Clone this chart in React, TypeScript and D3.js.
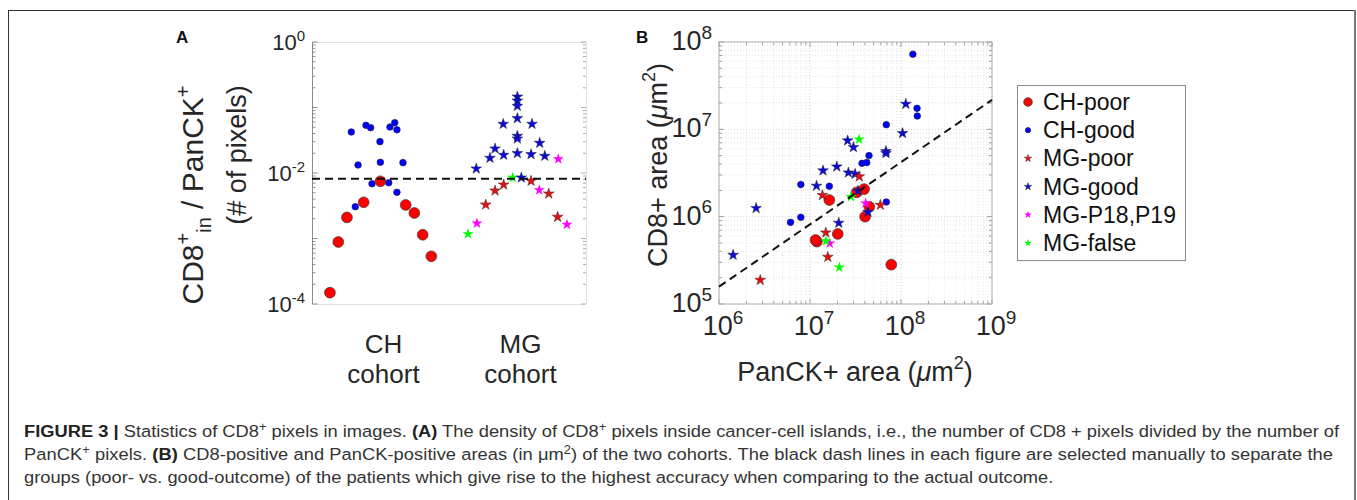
import React, { useLayoutEffect, useRef, useState } from "react";
import * as d3 from "d3";

// ---------- Panel A data: [x position (cohort index with offset), density] ----------
const CH_POOR_A: [number, number][] = [
  [0.631, 1.49e-4], [0.692, 8.85e-4], [0.755, 2.1e-3], [0.877, 3.57e-3], [0.999, 7.47e-3],
  [1.184, 3.25e-3], [1.247, 2.45e-3], [1.308, 1.14e-3], [1.371, 5.35e-4],
];
const CH_GOOD_A: [number, number][] = [
  [0.787, 0.0423], [0.836, 0.01325], [0.816, 3.06e-3], [0.894, 0.0535], [0.928, 0.0492],
  [0.938, 6.87e-3], [0.996, 0.0301], [0.999, 0.01456], [1.06, 7.11e-3], [1.069, 0.0504],
  [1.104, 0.0586], [1.12, 0.0458], [1.12, 5.07e-3], [1.164, 0.0144],
];
const MG_GOOD_A: [number, number][] = [
  [1.699, 0.01164], [1.799, 0.01694], [1.836, 0.02353], [1.896, 0.056], [1.899, 0.01883],
  [1.999, 0.146], [1.999, 0.127], [1.999, 0.1054], [1.999, 0.0684], [1.999, 0.0367],
  [1.999, 0.0334], [1.999, 0.02], [2.106, 0.056], [2.099, 0.0193], [2.162, 0.0287], [2.199, 0.0182],
];
const MG_POOR_A: [number, number][] = [
  [1.768, 3.28e-3], [1.836, 5.37e-3], [1.899, 6.63e-3], [2.099, 7.55e-3], [2.228, 4.83e-3], [2.293, 2.13e-3],
];
const MG_P1819_A: [number, number][] = [
  [1.704, 1.71e-3], [2.159, 5.5e-3], [2.298, 0.01636], [2.361, 1.63e-3],
];
const MG_FALSE_A: [number, number][] = [[1.639, 1.17e-3], [1.965, 8.49e-3]];
const MG_GOOD_A_TOP: [number, number][] = [[2.028, 8.49e-3]];
const THRESHOLD_A = 0.0082;
const COHORTS = ["CH", "MG"];
const COHORT_POS = [1, 2];

// ---------- Panel B data: [PanCK+ area, CD8+ area] in µm² ----------
const CH_POOR_B: [number, number][] = [
  [1.19e7, 5.18e5], [1.15e7, 5.41e5], [1.63e7, 1.55e6], [2.02e7, 6.34e5], [3.26e7, 1.9e6],
  [3.93e7, 2.07e6], [4.03e7, 1.0e6], [4.49e7, 1.3e6], [7.82e7, 2.82e5],
];
const CH_GOOD_B: [number, number][] = [
  [6.11e6, 8.61e5], [7.93e6, 9.84e5], [7.93e6, 2.33e6], [1.63e7, 2.23e6], [3.73e7, 4.08e6],
  [4.2e7, 4.16e6], [4.45e7, 5.0e6], [6.89e7, 1.13e7], [6.89e7, 1.47e6], [1.35e8, 7.24e7],
  [1.5e8, 1.74e7], [1.51e8, 1.42e7],
];
const MG_GOOD_B: [number, number][] = [
  [1.43e6, 3.64e5], [2.56e6, 1.25e6], [1.18e7, 2.25e6], [1.39e7, 3.37e6], [1.97e7, 3.74e6],
  [2.07e7, 8.47e5], [2.59e7, 7.43e6], [3.0e7, 6.24e6], [2.64e7, 3.19e6], [3.13e7, 3.08e6],
  [3.37e7, 1.97e6], [4.34e7, 1.13e6], [6.84e7, 5.61e6], [6.84e7, 5.32e6], [1.04e8, 9.02e6],
  [1.13e8, 1.95e7],
];
const MG_POOR_B: [number, number][] = [
  [2.84e6, 1.88e5], [1.37e7, 1.76e6], [1.49e7, 6.56e5], [1.57e7, 3.45e5], [3.48e7, 2.88e6], [5.93e7, 1.36e6],
];
const MG_P1819_B: [number, number][] = [[4.09e7, 1.42e6], [1.65e7, 4.95e5]];
const MG_FALSE_B: [number, number][] = [[3.46e7, 7.69e6], [2.82e7, 1.69e6], [1.5e7, 5.27e5], [2.1e7, 2.63e5]];
const THRESHOLD_B: [number, number][] = [[1e6, 1.58e5], [1e9, 2.17e7]];

const LEGEND_LABELS = ["CH-poor", "CH-good", "MG-poor", "MG-good", "MG-P18,P19", "MG-false"];

const FONT = "'Liberation Sans', Arial, Helvetica, sans-serif";

const STYLES: Record<string, { kind: "circle" | "star"; fill: string; stroke: string; r: number }> = {
  "CH-poor": { kind: "circle", fill: "#ff0000", stroke: "#3a3a3a", r: 5.4 },
  "CH-good": { kind: "circle", fill: "#0000ff", stroke: "#20205a", r: 3.3 },
  "MG-poor": { kind: "star", fill: "#e01212", stroke: "#4a2020", r: 36 },
  "MG-good": { kind: "star", fill: "#0a0ad8", stroke: "#202040", r: 36 },
  "MG-P18,P19": { kind: "star", fill: "#ff00ff", stroke: "none", r: 38 },
  "MG-false": { kind: "star", fill: "#00ff00", stroke: "none", r: 38 },
};

const starPath = (size: number) => d3.symbol(d3.symbolStar, size)() as string;

function Marker({ cls, x, y, scale = 1 }: { cls: string; x: number; y: number; scale?: number }) {
  const s = STYLES[cls];
  if (s.kind === "circle") {
    return <circle cx={x} cy={y} r={s.r * scale} fill={s.fill} stroke={s.stroke} strokeWidth={0.7} />;
  }
  return (
    <path
      d={starPath(s.r * scale * scale)}
      transform={`translate(${x},${y})`}
      fill={s.fill}
      stroke={s.stroke}
      strokeWidth={0.5}
    />
  );
}

function Pow({ base = "10", exp, size, supSize, x, y, anchor = "middle" }: any) {
  return (
    <text x={x} y={y} fontFamily={FONT} fontSize={size} textAnchor={anchor} fill="#262626">
      <tspan>{base}</tspan>
      <tspan fontSize={supSize} dy={-size * 0.42}>{exp}</tspan>
    </text>
  );
}

function logMinor(lo: number, hi: number) {
  const out: { v: number; major: boolean }[] = [];
  for (let d = lo; d <= hi; d++) {
    out.push({ v: Math.pow(10, d), major: true });
    if (d < hi) for (let k = 2; k <= 9; k++) out.push({ v: k * Math.pow(10, d), major: false });
  }
  return out;
}

export default function App() {
  // ---------- Panel A scales ----------
  const ax = d3.scaleLinear().domain([0.5, 2.5]).range([312, 586]);
  const ay = d3.scaleLog().domain([1e-4, 1]).range([304, 42]);
  // ---------- Panel B scales ----------
  const bx = d3.scaleLog().domain([1e6, 1e9]).range([719, 992]);
  const by = d3.scaleLog().domain([1e5, 1e8]).range([304, 42]);

  const aTicks = logMinor(-4, 0);
  const bxTicks = logMinor(6, 9);
  const byTicks = logMinor(5, 8);

  const bLine = d3
    .line<[number, number]>()
    .x((d) => bx(d[0]))
    .y((d) => by(d[1]));

  const capRef = useRef<SVGTextElement>(null);
  const [capScale, setCapScale] = useState(1);
  useLayoutEffect(() => {
    if (capRef.current) {
      const w = capRef.current.getComputedTextLength();
      if (w > 0) setCapScale(1316 / w);
    }
  }, []);

  const capX = 24;

  const groupsA: [string, [number, number][]][] = [
    ["CH-good", CH_GOOD_A],
    ["CH-poor", CH_POOR_A],
    ["MG-false", MG_FALSE_A],
    ["MG-good", MG_GOOD_A],
    ["MG-good", MG_GOOD_A_TOP],
    ["MG-poor", MG_POOR_A],
    ["MG-P18,P19", MG_P1819_A],
  ];
  const groupsB: [string, [number, number][]][] = [
    ["CH-good", CH_GOOD_B],
    ["CH-poor", CH_POOR_B],
    ["MG-good", MG_GOOD_B],
    ["MG-poor", MG_POOR_B],
    ["MG-P18,P19", MG_P1819_B],
    ["MG-false", MG_FALSE_B],
  ];

  return (
    <svg
      width={1357}
      height={500}
      style={{ position: "absolute", left: 0, top: 0, background: "#fff" }}
    >
      {/* frame */}
      <rect x={8.5} y={10.5} width={1346} height={600} fill="none" stroke="#333" strokeWidth={1} />
      <line x1={1355} x2={1355} y1={10} y2={500} stroke="#777" strokeWidth={2} />

      {/* ================= Panel A ================= */}
      <text x={176} y={43} fontFamily={FONT} fontWeight="bold" fontSize={17} fill="#111">A</text>
      {/* box */}
      <line x1={312} x2={586} y1={42.5} y2={42.5} stroke="#e2e2e2" />
      <line x1={312} x2={586} y1={304.5} y2={304.5} stroke="#e2e2e2" />
      <line x1={586.5} x2={586.5} y1={42} y2={304} stroke="#e2e2e2" />
      <line x1={312.5} x2={312.5} y1={42} y2={304} stroke="#8a8a8a" />
      {aTicks.map((t, i) => (
        <g key={i}>
          <line x1={312.5} x2={312.5 + (t.major ? 5 : 3)} y1={ay(t.v)} y2={ay(t.v)} stroke="#777" strokeWidth={0.8} />
          <line x1={586} x2={586 - (t.major ? 5 : 3)} y1={ay(t.v)} y2={ay(t.v)} stroke="#999" strokeWidth={0.8} />
        </g>
      ))}
      {[0, -2, -4].map((e) => (
        <Pow key={e} exp={String(e)} x={305} y={ay(Math.pow(10, e)) + 8} size={22} supSize={15} anchor="end" />
      ))}
      {/* y label */}
      <text transform="translate(203,195) rotate(-90)" fontFamily={FONT} fontSize={30} textAnchor="middle" fill="#262626">
        <tspan>CD8</tspan>
        <tspan fontSize={20} dy={-13}>+</tspan>
        <tspan fontSize={20} dy={21}>in</tspan>
        <tspan dy={-8}> / PanCK</tspan>
        <tspan fontSize={20} dy={-13}>+</tspan>
      </text>
      <text transform="translate(246,155) rotate(-90)" fontFamily={FONT} fontSize={27} textAnchor="middle" fill="#262626">
        (# of pixels)
      </text>
      {/* category labels */}
      {COHORTS.map((c, i) => (
        <g key={c}>
          <text x={ax(COHORT_POS[i]) + 3} y={353} fontFamily={FONT} fontSize={26} textAnchor="middle" fill="#262626">{c}</text>
          <text x={ax(COHORT_POS[i]) + 3} y={383} fontFamily={FONT} fontSize={26} textAnchor="middle" fill="#262626">cohort</text>
        </g>
      ))}
      {/* points */}
      {groupsA.map(([cls, pts], gi) =>
        pts.map((p, i) => <Marker key={`${gi}-${i}`} cls={cls} x={ax(p[0])} y={ay(p[1])} />)
      )}
      <line x1={312} x2={586} y1={ay(THRESHOLD_A)} y2={ay(THRESHOLD_A)} stroke="#111" strokeWidth={2} strokeDasharray="8,5" />

      {/* ================= Panel B ================= */}
      <text x={636} y={43} fontFamily={FONT} fontWeight="bold" fontSize={17} fill="#111">B</text>
      {/* grid */}
      {bxTicks.map((t, i) => (
        <line key={`gx${i}`} x1={bx(t.v)} x2={bx(t.v)} y1={42} y2={304} stroke={t.major ? "#c8c8c8" : "#dedede"} strokeWidth={0.8} strokeDasharray="1,2" />
      ))}
      {byTicks.map((t, i) => (
        <line key={`gy${i}`} x1={719} x2={992} y1={by(t.v)} y2={by(t.v)} stroke={t.major ? "#c8c8c8" : "#dedede"} strokeWidth={0.8} strokeDasharray="1,2" />
      ))}
      {/* ticks */}
      {bxTicks.map((t, i) => (
        <g key={`tx${i}`}>
          <line x1={bx(t.v)} x2={bx(t.v)} y1={304} y2={304 - (t.major ? 5 : 3)} stroke="#888" strokeWidth={0.8} />
          <line x1={bx(t.v)} x2={bx(t.v)} y1={42} y2={42 + (t.major ? 5 : 3)} stroke="#888" strokeWidth={0.8} />
        </g>
      ))}
      {byTicks.map((t, i) => (
        <g key={`ty${i}`}>
          <line x1={719} x2={719 + (t.major ? 5 : 3)} y1={by(t.v)} y2={by(t.v)} stroke="#888" strokeWidth={0.8} />
          <line x1={992} x2={992 - (t.major ? 5 : 3)} y1={by(t.v)} y2={by(t.v)} stroke="#888" strokeWidth={0.8} />
        </g>
      ))}
      <rect x={719} y={42} width={273} height={262} fill="none" stroke="#b0b0b0" strokeWidth={1} />
      {bxTicks.filter((t) => t.major).map((t) => (
        <Pow key={`lx${t.v}`} exp={String(Math.round(Math.log10(t.v)))} x={bx(t.v) + 4} y={335} size={27} supSize={19} />
      ))}
      {byTicks.filter((t) => t.major).map((t) => (
        <Pow key={`ly${t.v}`} exp={String(Math.round(Math.log10(t.v)))} x={712} y={by(t.v) + 8} size={27} supSize={19} anchor="end" />
      ))}
      {/* axis labels */}
      <text x={855} y={381} fontFamily={FONT} fontSize={27} textAnchor="middle" fill="#262626">
        <tspan>PanCK+ area (</tspan>
        <tspan fontStyle="italic">μ</tspan>
        <tspan>m</tspan>
        <tspan fontSize={18} dy={-12}>2</tspan>
        <tspan dy={12}>)</tspan>
      </text>
      <text transform="translate(667,165) rotate(-90)" fontFamily={FONT} fontSize={27} textAnchor="middle" fill="#262626">
        <tspan>CD8+ area (</tspan>
        <tspan fontStyle="italic">μ</tspan>
        <tspan>m</tspan>
        <tspan fontSize={18} dy={-12}>2</tspan>
        <tspan dy={12}>)</tspan>
      </text>
      {/* points */}
      <g>
        {groupsB.map(([cls, pts], gi) =>
          pts.map((p, i) => <Marker key={`b${gi}-${i}`} cls={cls} x={bx(p[0])} y={by(p[1])} />)
        )}
      </g>
      <path d={bLine(THRESHOLD_B) as string} stroke="#111" strokeWidth={2} strokeDasharray="8,5" fill="none" />

      {/* ================= Legend ================= */}
      <rect x={1017.5} y={85.5} width={168} height={175} fill="#fff" stroke="#8a8a8a" strokeWidth={1} />
      {LEGEND_LABELS.map((lab, i) => {
        const y = 102 + i * 28.2;
        return (
          <g key={lab}>
            <Marker cls={lab} x={1028} y={y} scale={STYLES[lab].kind === "circle" ? 0.8 : 0.7} />
            <text x={1043} y={y + 8} fontFamily={FONT} fontSize={23} fill="#111">{lab}</text>
          </g>
        );
      })}

      {/* ================= Caption ================= */}
      <g transform={`translate(${capX},0) scale(${capScale},1)`} fontFamily={FONT} fontSize={17} fill="#333">
        <text ref={capRef} x={0} y={437}>
          <tspan fontWeight="bold" fill="#222">FIGURE 3 | </tspan>
          <tspan>Statistics of CD8</tspan>
          <tspan fontSize={12} dy={-6}>+</tspan>
          <tspan dy={6}> pixels in images. </tspan>
          <tspan fontWeight="bold" fill="#222">(A)</tspan>
          <tspan> The density of CD8</tspan>
          <tspan fontSize={12} dy={-6}>+</tspan>
          <tspan dy={6}> pixels inside cancer-cell islands, i.e., the number of CD8 + pixels divided by the number of</tspan>
        </text>
        <text x={0} y={460} textLength={1309 / capScale} lengthAdjust="spacing">
          <tspan>PanCK</tspan>
          <tspan fontSize={12} dy={-6}>+</tspan>
          <tspan dy={6}> pixels. </tspan>
          <tspan fontWeight="bold" fill="#222">(B)</tspan>
          <tspan> CD8-positive and PanCK-positive areas (in μm</tspan>
          <tspan fontSize={12} dy={-6}>2</tspan>
          <tspan dy={6}>) of the two cohorts. The black dash lines in each figure are selected manually to separate the</tspan>
        </text>
        <text x={0} y={483}>
          groups (poor- vs. good-outcome) of the patients which give rise to the highest accuracy when comparing to the actual outcome.
        </text>
      </g>
    </svg>
  );
}
